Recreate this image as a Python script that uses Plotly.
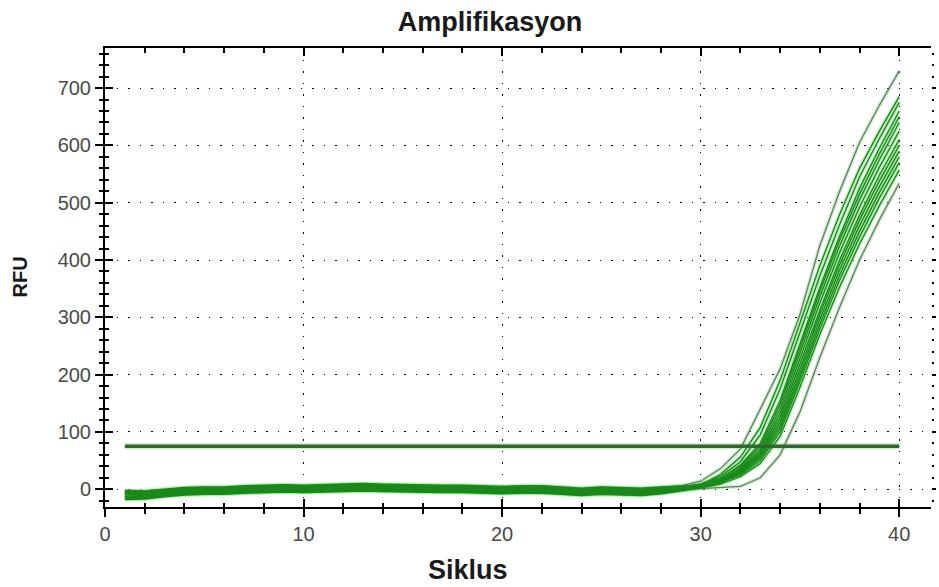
import plotly.graph_objects as go

# Amplification run: RFU per cycle for each well
cycles = list(range(1, 41))

well_a = [-3, -4, -1, 2, 3, 3, 5, 6, 7, 6, 7, 8, 9, 8, 7, 7, 6, 6, 5, 4, 5, 5, 3, 1, 3, 2, 1, 3,
          6, 14, 36, 70, 140, 210, 305, 425, 520, 605, 670, 730]
well_b = [-15, -14, -11, -8, -7, -6, -5, -4, -3, -4, -3, -2, -1, -2, -3, -3, -4, -4, -5, -6, -5, -5, -7, -9, -7, -8, -9, -6,
          -1, 7, 26, 56, 108, 190, 290, 390, 480, 560, 625, 685]
well_c = [-6, -7, -4, -1, 0, 0, 2, 3, 4, 3, 4, 5, 6, 5, 4, 4, 3, 3, 2, 1, 2, 2, 0, -2, 0, -1, -2, 0,
          3, 9, 22, 48, 95, 175, 275, 372, 462, 545, 612, 675]
well_d = [-17, -16, -12, -9, -8, -8, -6, -5, -4, -5, -4, -3, -2, -3, -4, -4, -5, -5, -6, -7, -6, -6, -8, -10, -8, -9, -10, -7,
          -2, 5, 18, 42, 80, 155, 255, 352, 442, 525, 595, 660]
well_e = [-4, -5, -2, 1, 2, 2, 4, 5, 6, 5, 6, 7, 8, 7, 6, 6, 5, 5, 4, 3, 4, 4, 2, 0, 2, 1, 0, 2,
          4, 9, 19, 40, 75, 148, 245, 345, 435, 515, 585, 650]
well_f = [-12, -11, -8, -5, -4, -4, -2, -1, 0, -1, 0, 1, 2, 1, 0, 0, -1, -1, -2, -3, -2, -2, -4, -6, -4, -5, -6, -4,
          0, 6, 16, 37, 70, 140, 238, 336, 425, 505, 575, 640]
well_g = [-8, -8, -5, -2, -1, -1, 1, 2, 3, 2, 3, 4, 5, 4, 3, 3, 2, 2, 1, 0, 1, 1, -1, -3, -1, -2, -3, -1,
          2, 6, 15, 35, 66, 132, 228, 325, 413, 492, 562, 625]
well_h = [-14, -13, -10, -7, -6, -6, -4, -3, -2, -3, -2, -1, 0, -1, -2, -2, -3, -3, -4, -5, -4, -4, -6, -8, -6, -7, -8, -6,
          -2, 4, 14, 33, 63, 125, 218, 312, 400, 478, 548, 610]
well_i = [-5, -6, -3, 0, 1, 1, 3, 4, 5, 4, 5, 6, 7, 6, 5, 5, 4, 4, 3, 2, 3, 3, 1, -1, 1, 0, -1, 1,
          3, 6, 13, 31, 60, 118, 210, 305, 392, 470, 538, 600]
well_j = [-9, -9, -6, -3, -2, -2, 0, 1, 2, 1, 2, 3, 4, 3, 2, 2, 1, 1, 0, -1, 0, 0, -2, -4, -2, -3, -4, -2,
          1, 5, 12, 29, 57, 112, 202, 296, 383, 460, 528, 590]
well_k = [-13, -12, -9, -6, -5, -5, -3, -2, -1, -2, -1, 0, 1, 0, -1, -1, -2, -2, -3, -4, -3, -3, -5, -7, -5, -6, -7, -5,
          -2, 3, 11, 27, 54, 106, 195, 288, 374, 450, 518, 580]
well_l = [-2, -3, 0, 3, 4, 4, 6, 7, 8, 7, 8, 9, 10, 9, 8, 8, 7, 7, 6, 5, 6, 6, 4, 2, 4, 3, 2, 4,
          5, 7, 12, 25, 50, 100, 188, 280, 365, 440, 508, 570]
well_m = [-18, -17, -13, -10, -9, -9, -7, -6, -5, -6, -5, -4, -3, -4, -5, -5, -6, -6, -7, -8, -7, -7, -9, -11, -9, -10, -11, -8,
          -3, 2, 9, 22, 45, 92, 178, 270, 353, 428, 495, 557]
well_n = [-10, -10, -7, -4, -3, -3, -1, 0, 1, 0, 1, 2, 3, 2, 1, 1, 0, 0, -1, -2, -1, -1, -3, -5, -3, -4, -5, -3,
          -1, 1, 3, 5, 20, 60, 135, 230, 318, 400, 470, 534]

green_wells = [well_b, well_c, well_d, well_e, well_f, well_g, well_h,
               well_i, well_j, well_k, well_l, well_m]
edge_wells = [well_a, well_n]

threshold = 75
threshold_span = [1, 40]

x_ticks = [0, 10, 20, 30, 40]
y_ticks = [0, 100, 200, 300, 400, 500, 600, 700]

FONT = "Liberation Sans, Arial, sans-serif"
GREEN = "#178a17"
HALO = "rgba(110,215,110,0.35)"
EDGE = "#6b786b"

fig = go.Figure()

# soft halo under every curve
for w in edge_wells + green_wells:
    fig.add_trace(go.Scatter(x=cycles, y=w, mode="lines",
                             line=dict(color=HALO, width=4), hoverinfo="skip"))
fig.add_trace(go.Scatter(x=threshold_span, y=[threshold, threshold], mode="lines",
                         line=dict(color="rgba(110,200,110,0.35)", width=6), hoverinfo="skip"))

# outermost wells first, the green bundle drawn over them
for w in edge_wells:
    fig.add_trace(go.Scatter(x=cycles, y=w, mode="lines",
                             line=dict(color=EDGE, width=1.3)))
for w in green_wells:
    fig.add_trace(go.Scatter(x=cycles, y=w, mode="lines",
                             line=dict(color=GREEN, width=1.4)))

# threshold line
fig.add_trace(go.Scatter(x=threshold_span, y=[threshold, threshold], mode="lines",
                         line=dict(color="#2e6a2e", width=3.5)))

# tick-only overlay axes so the ticks cross the frame lines
fig.add_trace(go.Scatter(x=[None], y=[None], xaxis="x2", yaxis="y2", showlegend=False))
fig.add_trace(go.Scatter(x=[None], y=[None], xaxis="x3", yaxis="y3", showlegend=False))

XR = [0, 41.6]
YR = [-31, 770]
dot = "1.5px,10px"

fig.update_layout(
    width=939, height=587,
    margin=dict(l=105, r=4, t=48, b=80),
    paper_bgcolor="white", plot_bgcolor="white",
    showlegend=False,
    font=dict(family=FONT, color="#4a4a4a"),
    xaxis=dict(range=XR, tickvals=x_ticks, ticks="outside", ticklen=8, tickwidth=1.5,
               tickcolor="black", showline=True, linecolor="black", linewidth=2,
               showgrid=True, gridcolor="black", gridwidth=1.2, griddash=dot,
               zeroline=False, tickfont=dict(size=20, color="#4a4a4a"),
               minor=dict(dtick=2, tick0=0, ticks="outside", ticklen=5, tickwidth=1.5,
                          tickcolor="black", showgrid=False),
               mirror=False, fixedrange=True),
    yaxis=dict(range=YR, tickvals=y_ticks, ticks="outside", ticklen=8, tickwidth=1.5,
               tickcolor="black", showline=True, linecolor="black", linewidth=2,
               showgrid=True, gridcolor="black", gridwidth=1.2, griddash=dot,
               zeroline=False, tickfont=dict(size=20, color="#4a4a4a"),
               minor=dict(dtick=20, tick0=0, ticks="outside", ticklen=4, tickwidth=1.5,
                          tickcolor="black", showgrid=False),
               fixedrange=True),
    # top frame line with inward ticks, plus inward ticks on the left
    xaxis2=dict(range=XR, overlaying="x", side="top", anchor="y2",
                tickvals=x_ticks, ticks="inside", ticklen=8, tickwidth=1.5, tickcolor="black",
                showticklabels=False, showline=True, linecolor="black", linewidth=2,
                showgrid=False, zeroline=False,
                minor=dict(dtick=2, tick0=0, ticks="inside", ticklen=5, tickwidth=1.5,
                           tickcolor="black", showgrid=False)),
    yaxis2=dict(range=YR, overlaying="y", side="left", anchor="x2",
                tickvals=y_ticks, ticks="inside", ticklen=8, tickwidth=1.5, tickcolor="black",
                showticklabels=False, showline=False, showgrid=False, zeroline=False,
                minor=dict(dtick=20, tick0=0, ticks="inside", ticklen=4, tickwidth=1.5,
                           tickcolor="black", showgrid=False)),
    # inward ticks on the bottom, tick marks on the right edge
    xaxis3=dict(range=XR, overlaying="x", side="bottom", anchor="y3",
                tickvals=x_ticks, ticks="inside", ticklen=8, tickwidth=1.5, tickcolor="black",
                showticklabels=False, showline=False, showgrid=False, zeroline=False,
                minor=dict(dtick=2, tick0=0, ticks="inside", ticklen=4, tickwidth=1.5,
                           tickcolor="black", showgrid=False)),
    yaxis3=dict(range=YR, overlaying="y", side="right", anchor="x3",
                tickvals=y_ticks, ticks="outside", ticklen=4, tickwidth=2, tickcolor="black",
                showticklabels=False, showline=False, showgrid=False, zeroline=False,
                minor=dict(dtick=20, tick0=0, ticks="outside", ticklen=2, tickwidth=2,
                           tickcolor="black", showgrid=False)),
    title=dict(text="<b>Amplifikasyon</b>", x=490 / 939, xref="container", xanchor="center",
               y=1 - 22 / 587, yref="container", yanchor="middle",
               font=dict(family=FONT, size=27, color="#1a1a1a")),
)

fig.add_annotation(text="<b>Siklus</b>", xref="paper", yref="paper",
                   x=(470 - 105) / 830, y=-(570 - 507) / 459,
                   xanchor="center", yanchor="middle", showarrow=False,
                   font=dict(family=FONT, size=27, color="#1a1a1a"))
fig.add_annotation(text="<b>RFU</b>", xref="paper", yref="paper",
                   x=(20 - 105) / 830, y=(507 - 277) / 459, textangle=-90,
                   xanchor="center", yanchor="middle", showarrow=False,
                   font=dict(family=FONT, size=20, color="#1a1a1a"))

fig.write_html("out.html")
